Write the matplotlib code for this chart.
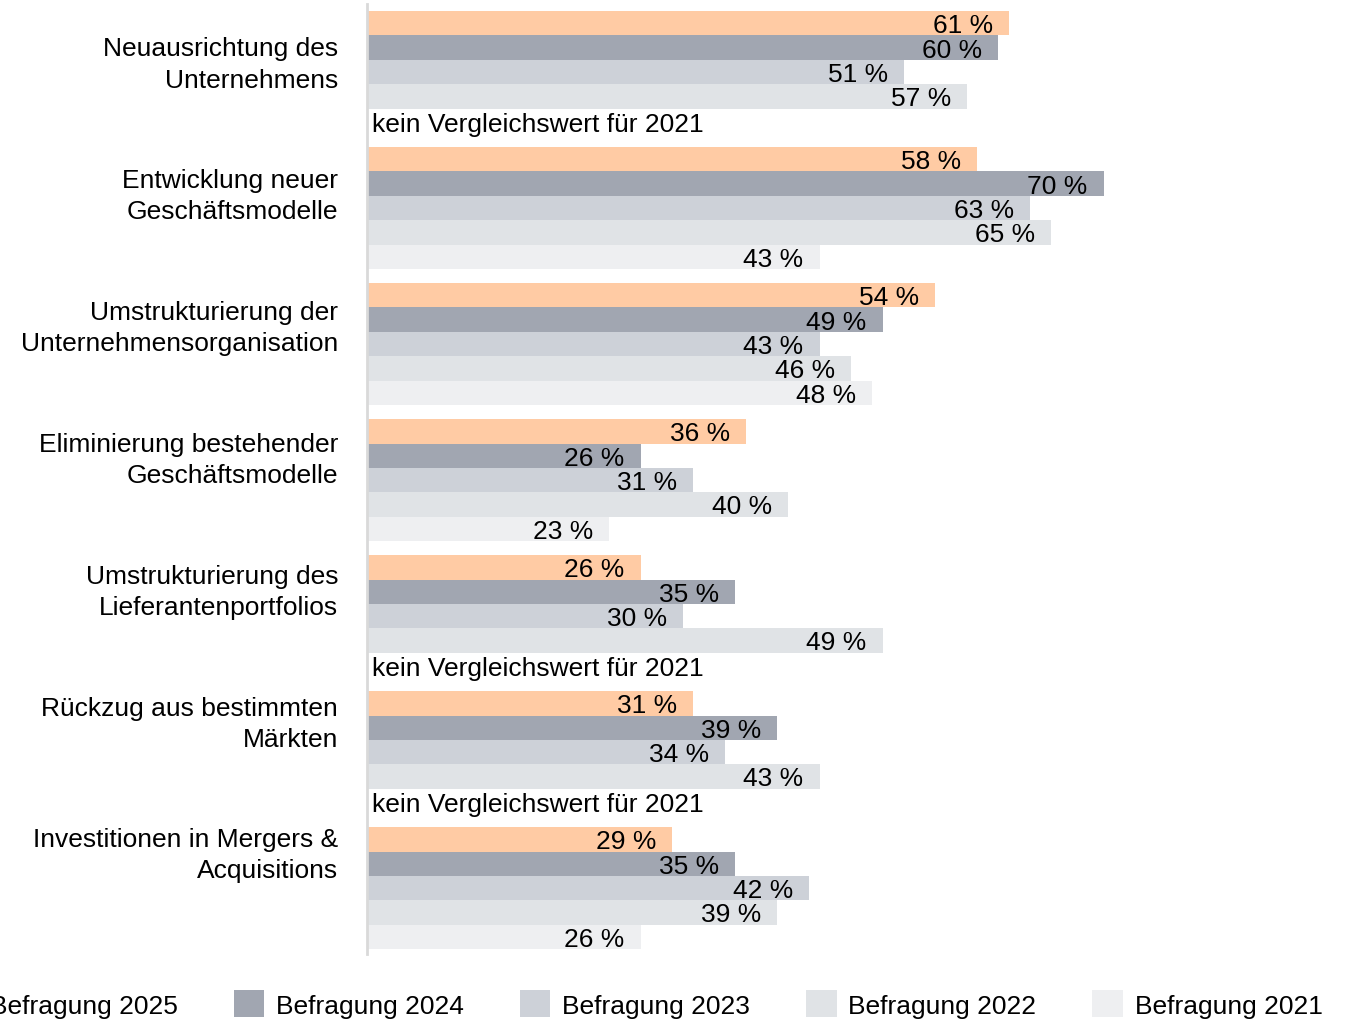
import matplotlib.pyplot as plt
import matplotlib.transforms as mtransforms

plt.rcParams['font.family'] = ['Liberation Sans', 'DejaVu Sans']

# Data
categories = [
    "Neuausrichtung des\nUnternehmens",
    "Entwicklung neuer\nGeschäftsmodelle",
    "Umstrukturierung der\nUnternehmensorganisation",
    "Eliminierung bestehender\nGeschäftsmodelle",
    "Umstrukturierung des\nLieferantenportfolios",
    "Rückzug aus bestimmten\nMärkten",
    "Investitionen in Mergers &\nAcquisitions",
]
series_names = ["Befragung 2025", "Befragung 2024", "Befragung 2023", "Befragung 2022", "Befragung 2021"]
vals_2025 = [61, 58, 54, 36, 26, 31, 29]
vals_2024 = [60, 70, 49, 26, 35, 39, 35]
vals_2023 = [51, 63, 43, 31, 30, 34, 42]
vals_2022 = [57, 65, 46, 40, 49, 43, 39]
vals_2021 = [None, 43, 48, 23, None, None, 26]
missing_text = "kein Vergleichswert für 2021"

colors = ["#FFCBA4", "#A1A6B1", "#CDD1D8", "#E0E3E6", "#EEEFF1"]

fig = plt.figure(figsize=(13.5, 10.2), dpi=100)
ax = fig.add_axes([367 / 1350, 1 - 955 / 1020, 983 / 1350, 950 / 1020])

bar_h = 0.179
all_series = [vals_2025, vals_2024, vals_2023, vals_2022, vals_2021]
for j, (name, vals, col) in enumerate(zip(series_names, all_series, colors)):
    ys = [i + (j - 2) * bar_h for i in range(len(categories))]
    xs = [v if v is not None else 0 for v in vals]
    ax.barh(ys, xs, height=bar_h, color=col, label=name)
    for y, v in zip(ys, vals):
        if v is None:
            ax.annotate(missing_text, (0, y), xytext=(5, -3), textcoords='offset pixels',
                        ha='left', va='center', fontsize=19, color='black')
        else:
            ax.annotate(f"{v} %", (v, y), xytext=(-16, -2), textcoords='offset pixels',
                        ha='right', va='center', fontsize=19, color='black')

ax.set_xlim(0, 93.4)
ax.set_ylim(6.485, -0.5)
ax.set_xticks([])
ax.set_yticks([])
for s in ['top', 'right', 'bottom']:
    ax.spines[s].set_visible(False)
ax.spines['left'].set_color('#D9D9D9')
ax.spines['left'].set_linewidth(2)

# category labels sit a little above the group centres, drifting upward
trans = mtransforms.blended_transform_factory(ax.transAxes, ax.transData)
for i, cat in enumerate(categories):
    ax.text(-29 / 983, (-8 + 131.8 * i) / 136, cat, transform=trans, ha='right', va='center',
            fontsize=19, linespacing=1.37)

fig.legend(loc='center', bbox_to_anchor=(635 / 1350, 1 - 1005 / 1020), ncol=5,
           frameon=False, fontsize=19, handlelength=1.17, handleheight=1.2,
           handletextpad=0.45, columnspacing=2.1)

fig.savefig("out.png", dpi=100)
